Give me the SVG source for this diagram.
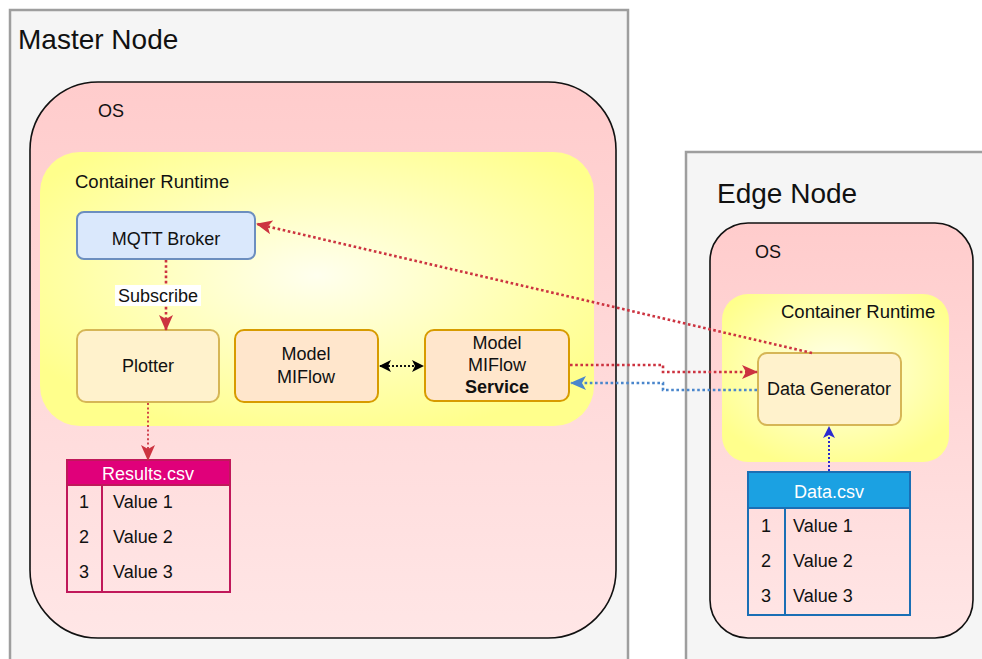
<svg xmlns="http://www.w3.org/2000/svg" width="982" height="659" viewBox="0 0 982 659">
  <defs>
    <linearGradient id="osFill" x1="0" y1="0" x2="0" y2="1">
      <stop offset="0" stop-color="#ffcccc"/>
      <stop offset="1" stop-color="#ffe6e6"/>
    </linearGradient>
    <radialGradient id="crFill" cx="0.5" cy="0.45" r="0.6">
      <stop offset="0" stop-color="#ffffee"/>
      <stop offset="1" stop-color="#ffff8c"/>
    </radialGradient>
    <marker id="arrRed" markerUnits="userSpaceOnUse" markerWidth="16" markerHeight="14" viewBox="0 0 16 14" refX="15" refY="7" orient="auto">
      <path d="M0,0 L16,7 L0,14 L4,7 Z" fill="#cc3340"/>
    </marker>
    <marker id="arrBlue" markerUnits="userSpaceOnUse" markerWidth="16" markerHeight="14" viewBox="0 0 16 14" refX="15" refY="7" orient="auto">
      <path d="M0,0 L16,7 L0,14 L4,7 Z" fill="#4a86cc"/>
    </marker>
    <marker id="arrNavy" markerUnits="userSpaceOnUse" markerWidth="12" markerHeight="12" viewBox="0 0 12 12" refX="11" refY="6" orient="auto">
      <path d="M0,0 L12,6 L0,12 L3,6 Z" fill="#2b2bd0"/>
    </marker>
    <marker id="arrBlack" markerUnits="userSpaceOnUse" markerWidth="12" markerHeight="12" viewBox="0 0 12 12" refX="11" refY="6" orient="auto-start-reverse">
      <path d="M0,0 L12,6 L0,12 L3,6 Z" fill="#000"/>
    </marker>
  </defs>
  <style>
    text { font-family: "Liberation Sans", Arial, sans-serif; fill: #111; }
    .host { fill: #f5f5f5; stroke: #9e9e9e; stroke-width: 2.5; }
    .os { fill: url(#osFill); stroke: #111; stroke-width: 1.6; }
    .cr { fill: url(#crFill); stroke: none; }
    .broker { fill: #dae8fc; stroke: #6c8ebf; stroke-width: 2; }
    .plain { fill: #fff2cc; stroke: #d6b656; stroke-width: 2; }
    .model { fill: #ffe6cc; stroke: #d79b00; stroke-width: 2; }
    .title { font-size: 28px; }
    .lbl { font-size: 18px; }
    .rt { font-size: 18.5px; }
    .mid { text-anchor: middle; }
    .hdr { font-size: 18px; fill: #fff; text-anchor: middle; }
    .dot { fill: none; stroke-width: 2.6; stroke-dasharray: 2.6 2.6; }
    .red { stroke: #cc3340; }
    .blue { stroke: #4a86cc; }
    .navy { stroke: #2b2bd0; }
    .black { stroke: #111; }
  </style>

  <!-- hosts -->
  <g id="master-node">
    <rect class="host" x="10" y="10" width="618" height="670"/>
    <text class="title" x="18" y="49">Master Node</text>
  </g>
  <g id="edge-node">
    <rect class="host" x="686" y="152" width="330" height="530"/>
    <text class="title" x="717" y="203">Edge Node</text>
  </g>

  <!-- operating systems -->
  <g id="master-os">
    <rect class="os" x="30" y="82" width="586" height="556" rx="68" ry="68"/>
    <text class="lbl" x="98" y="117">OS</text>
  </g>
  <g id="edge-os">
    <rect class="os" x="710" y="223" width="263" height="415" rx="38" ry="38"/>
    <text class="lbl" x="755" y="258">OS</text>
  </g>

  <!-- container runtimes -->
  <g id="master-runtime">
    <rect class="cr" x="40" y="152" width="554" height="274" rx="40" ry="40"/>
    <text class="rt" x="75" y="188">Container Runtime</text>
  </g>
  <g id="edge-runtime">
    <rect class="cr" x="722" y="294" width="227" height="168" rx="26" ry="26"/>
    <text class="rt" x="781" y="318">Container Runtime</text>
  </g>

  <!-- services -->
  <g id="mqtt-broker">
    <rect class="broker" x="77" y="212" width="178" height="47" rx="7"/>
    <text class="lbl mid" x="166" y="245">MQTT Broker</text>
  </g>
  <g id="plotter">
    <rect class="plain" x="77" y="330" width="142" height="72" rx="9"/>
    <text class="lbl mid" x="148" y="372">Plotter</text>
  </g>
  <g id="model-miflow">
    <rect class="model" x="235" y="330" width="143" height="72" rx="9"/>
    <text class="lbl mid" x="306" y="360">Model</text>
    <text class="lbl mid" x="306" y="383">MIFlow</text>
  </g>
  <g id="model-miflow-service">
    <rect class="model" x="425" y="330" width="144" height="71" rx="9"/>
    <text class="lbl mid" x="497" y="349">Model</text>
    <text class="lbl mid" x="497" y="371">MIFlow</text>
    <text class="lbl mid" x="497" y="393" font-weight="bold">Service</text>
  </g>
  <g id="data-generator">
    <rect class="plain" x="758" y="353" width="143" height="72" rx="9"/>
    <text class="lbl mid" x="829" y="395">Data Generator</text>
  </g>

  <!-- files -->
  <g id="results-csv">
    <rect x="67" y="460" width="163" height="25" fill="#e0007a" stroke="#c0185a" stroke-width="2"/>
    <rect x="67" y="485" width="163" height="107" fill="none" stroke="#c0185a" stroke-width="2"/>
    <line x1="102" y1="485" x2="102" y2="592" stroke="#c0185a" stroke-width="2"/>
    <text class="hdr" x="148" y="480">Results.csv</text>
    <text class="lbl mid" x="84" y="508">1</text>
    <text class="lbl" x="113" y="508">Value 1</text>
    <text class="lbl mid" x="84" y="543">2</text>
    <text class="lbl" x="113" y="543">Value 2</text>
    <text class="lbl mid" x="84" y="578">3</text>
    <text class="lbl" x="113" y="578">Value 3</text>
  </g>
  <g id="data-csv">
    <rect x="748" y="472" width="162" height="36" fill="#1ba1e2" stroke="#1a6fb5" stroke-width="2"/>
    <rect x="748" y="508" width="162" height="107" fill="none" stroke="#1a6fb5" stroke-width="2"/>
    <line x1="785" y1="508" x2="785" y2="615" stroke="#1a6fb5" stroke-width="2"/>
    <text class="hdr" x="829" y="498">Data.csv</text>
    <text class="lbl mid" x="766" y="532">1</text>
    <text class="lbl" x="793" y="532">Value 1</text>
    <text class="lbl mid" x="766" y="567">2</text>
    <text class="lbl" x="793" y="567">Value 2</text>
    <text class="lbl mid" x="766" y="602">3</text>
    <text class="lbl" x="793" y="602">Value 3</text>
  </g>

  <!-- connectors -->
  <g id="connectors">
    <path id="broker-to-plotter" class="dot red" d="M166,260 L166,330" marker-end="url(#arrRed)"/>
    <rect x="115" y="285" width="86" height="21" fill="#ffffff"/>
    <text class="lbl mid" x="158" y="302">Subscribe</text>
    <path id="plotter-to-results" class="dot red" d="M148,403 L148,460" marker-end="url(#arrRed)" style="stroke-width:1.8;stroke-dasharray:2 2.4"/>
    <path id="model-to-service" class="dot black" d="M380,366 L423,366" marker-start="url(#arrBlack)" marker-end="url(#arrBlack)" style="stroke-width:2;stroke-dasharray:2 2"/>
    <path id="generator-to-broker" class="dot red" d="M812,353 L257,224" marker-end="url(#arrRed)"/>
    <path id="service-to-generator" class="dot red" d="M570,365 L663,365 L663,372 L757,372" marker-end="url(#arrRed)"/>
    <path id="generator-to-service" class="dot blue" d="M757,390 L663,390 L663,383 L571,383" marker-end="url(#arrBlue)"/>
    <path id="data-to-generator" class="dot navy" d="M829,471 L829,427" marker-end="url(#arrNavy)" style="stroke-width:2;stroke-dasharray:2 2"/>
  </g>
</svg>
